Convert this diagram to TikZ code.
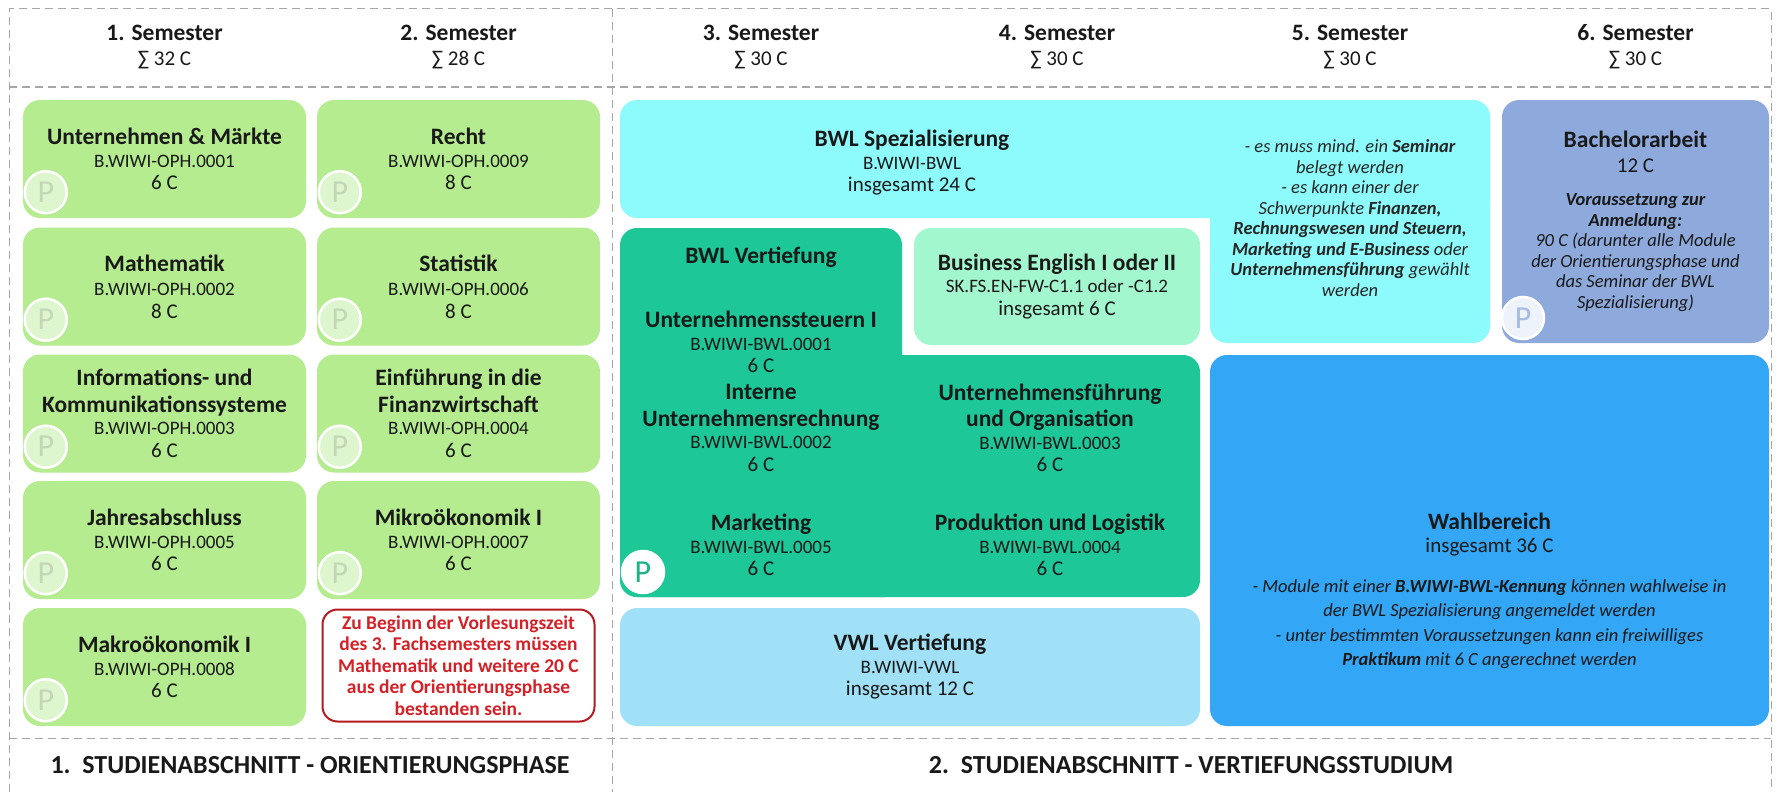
\documentclass[tikz,border=0pt]{standalone}
\usepackage{fontspec}
\setmainfont{Carlito}
\usepackage{xcolor}
\definecolor{gruen}{HTML}{B5EC8F}
\definecolor{tuerkis}{HTML}{1DC797}
\definecolor{mint}{HTML}{A3F7CF}
\definecolor{cyanbox}{HTML}{8DFBFB}
\definecolor{hellblau}{HTML}{A0E1F7}
\definecolor{lila}{HTML}{8EAADC}
\definecolor{blau}{HTML}{33A6F5}
\definecolor{rot}{HTML}{D42027}
\definecolor{rahmen}{HTML}{A6A6A6}

\newcommand\mtitle{\fontsize{23.5}{26}\selectfont\bfseries}
\newcommand\mcode{\fontsize{19}{21}\selectfont}
\newcommand\mnote{\fontsize{18.5}{20.5}\selectfont\itshape}

\tikzset{
  frame/.style={draw=rahmen, dash pattern=on 8pt off 5pt, line width=1pt},
  modbox/.style={rounded corners=17pt, inner sep=0pt, align=center, fill=#1,
    text=black!90, font=\fontsize{21}{22.5}\selectfont},
  gbox/.style={modbox=gruen, minimum width=283pt, minimum height=118pt},
  txt/.style={align=center, inner sep=0pt, text=black!90, font=\fontsize{21}{22.5}\selectfont},
  pmark/.style={circle, minimum size=42pt, inner sep=0pt, line width=2.5pt, draw=white,
    font=\fontsize{32}{32}\selectfont},
}

\begin{document}
\begin{tikzpicture}[x=1pt,y=-1pt]
\useasboundingbox (0,0) rectangle (1778,792);
\fill[white] (0,0) rectangle (1778,792);

% Rahmen
\draw[frame] (9,792) -- (9,9) -- (1771,9) -- (1771,792);
\draw[frame] (9,87) -- (1771,87);
\draw[frame] (9,738) -- (1771,738);
\draw[frame] (612,9) -- (612,792);

% Semester
\node[txt, font=\fontsize{21}{25}\selectfont] (s1) at (164.5,47) {\mtitle 1. Semester\\ ∑ 32 C};
\node[txt, font=\fontsize{21}{25}\selectfont] (s2) at (458.5,47) {\mtitle 2. Semester\\ ∑ 28 C};
\node[txt, font=\fontsize{21}{25}\selectfont] (s3) at (761,47) {\mtitle 3. Semester\\ ∑ 30 C};
\node[txt, font=\fontsize{21}{25}\selectfont] (s4) at (1057,47) {\mtitle 4. Semester\\ ∑ 30 C};
\node[txt, font=\fontsize{21}{25}\selectfont] (s5) at (1350,47) {\mtitle 5. Semester\\ ∑ 30 C};
\node[txt, font=\fontsize{21}{25}\selectfont] (s6) at (1635.5,47) {\mtitle 6. Semester\\ ∑ 30 C};

% Orientierungsphase
\node[gbox] (um) at (164.5,159) {\mtitle Unternehmen \& Märkte\\ \mcode B.WIWI-OPH.0001\\ 6 C};
\node[gbox] (mat) at (164.5,286.5) {\mtitle Mathematik\\[2pt] \mcode B.WIWI-OPH.0002\\ 8 C};
\node[gbox] (iks) at (164.5,413.5) {\mtitle Informations- und\\[4pt] \mtitle Kommunikationssysteme\\ \mcode B.WIWI-OPH.0003\\ 6 C};
\node[gbox] (ja) at (164.5,540) {\mtitle Jahresabschluss\\ \mcode B.WIWI-OPH.0005\\ 6 C};
\node[gbox] (mak) at (164.5,667) {\mtitle Makroökonomik I\\ \mcode B.WIWI-OPH.0008\\ 6 C};
\node[gbox] (re) at (458.5,159) {\mtitle Recht\\ \mcode B.WIWI-OPH.0009\\ 8 C};
\node[gbox] (sta) at (458.5,286.5) {\mtitle Statistik\\[2pt] \mcode B.WIWI-OPH.0006\\ 8 C};
\node[gbox] (fin) at (458.5,413.5) {\mtitle Einführung in die\\[4pt] \mtitle Finanzwirtschaft\\ \mcode B.WIWI-OPH.0004\\ 6 C};
\node[gbox] (mik) at (458.5,540) {\mtitle Mikroökonomik I\\ \mcode B.WIWI-OPH.0007\\ 6 C};
\foreach \b in {um,mat,iks,ja,mak,re,sta,fin,mik}
  \node[pmark, fill=gruen!45!white, text=gruen!55!gray!60!white] (\b-p) at ([shift={(23pt,26pt)}]\b.south west) {P};

\node[modbox=white, draw=rot!85!black, line width=2pt, rounded corners=15pt,
  minimum width=272pt, minimum height=112pt, text=rot,
  font=\fontsize{19.5}{21.5}\selectfont\bfseries] (hinweis) at (458.5,665.5)
  {Zu Beginn der Vorlesungszeit\\ des 3. Fachsemesters müssen\\ Mathematik und weitere 20 C\\ aus der Orientierungsphase\\ bestanden sein.};

% Vertiefungsstudium
\fill[cyanbox, rounded corners=17pt] (620,100) rectangle (1490,218);
\fill[cyanbox, rounded corners=17pt] (1210,100) rectangle (1490,343);
\node[txt] (spz) at (912,163) {\mtitle BWL Spezialisierung\\ \mcode B.WIWI-BWL\\ insgesamt 24 C};
\node[txt, font=\mnote, text=black!85] (spznote) at (1350,218)
  {- es muss mind. ein \textbf{Seminar}\\ belegt werden\\ - es kann einer der\\ Schwerpunkte \textbf{Finanzen,}\\
   \textbf{Rechnungswesen und Steuern,}\\ \textbf{Marketing und E-Business} oder\\ \textbf{Unternehmensführung} gewählt\\ werden};

\fill[tuerkis, rounded corners=17pt] (620,228) rectangle (902,597);
\fill[tuerkis, rounded corners=17pt] (620,355) rectangle (1200,597);
\node[txt] (bvt) at (761,257) {\mtitle BWL Vertiefung};
\node[txt] (ust) at (761,342) {\mtitle Unternehmenssteuern I\\ \mcode B.WIWI-BWL.0001\\ 6 C};
\node[txt] (iur) at (761,428) {\mtitle Interne\\[4pt] \mtitle Unternehmensrechnung\\ \mcode B.WIWI-BWL.0002\\ 6 C};
\node[txt] (ufo) at (1050,428) {\mtitle Unternehmensführung\\[4pt] \mtitle und Organisation\\ \mcode B.WIWI-BWL.0003\\ 6 C};
\node[txt] (mkt) at (761,545) {\mtitle Marketing\\ \mcode B.WIWI-BWL.0005\\ 6 C};
\node[txt] (pul) at (1050,545) {\mtitle Produktion und Logistik\\ \mcode B.WIWI-BWL.0004\\ 6 C};
\node[pmark, fill=white, text=tuerkis!90!black] (bvt-p) at (643,572) {P};

\node[modbox=mint, minimum width=286pt, minimum height=117pt] (be) at (1057,286.5)
  {\mtitle Business English I oder II\\ \mcode SK.FS.EN-FW-C1.1 oder -C1.2\\ insgesamt 6 C};
\node[modbox=hellblau, minimum width=580pt, minimum height=118pt] (vwl) at (910,667)
  {\mtitle VWL Vertiefung\\ \mcode B.WIWI-VWL\\ insgesamt 12 C};

\node[modbox=lila, minimum width=267pt, minimum height=243pt, font=\fontsize{21}{20.5}\selectfont] (ba) at (1635.5,221.5)
  {\mtitle Bachelorarbeit\\[4pt] 12 C\\[13pt] \mnote\bfseries Voraussetzung zur\\ \mnote\bfseries Anmeldung:\\
   \mnote 90 C (darunter alle Module\\ \mnote der Orientierungsphase und\\ \mnote das Seminar der BWL\\ \mnote Spezialisierung)};
\node[pmark, fill=white!85!lila, text=lila!80!white] (ba-p) at (1523,318) {P};

\node[modbox=blau, minimum width=559pt, minimum height=371pt] (wb) at (1489.5,540.5) {};
\node[txt, font=\fontsize{21}{24.5}\selectfont] (wbtext) at (1489.5,591)
  {\mtitle Wahlbereich\\[-1.5pt] insgesamt 36 C\\[15pt] \mnote - Module mit einer \textbf{B.WIWI-BWL-Kennung} können wahlweise in\\
   \mnote der BWL Spezialisierung angemeldet werden\\ \mnote - unter bestimmten Voraussetzungen kann ein freiwilliges\\
   \mnote \textbf{Praktikum} mit 6 C angerechnet werden};

% Studienabschnitte
\node[txt, font=\fontsize{26}{30}\selectfont\bfseries] (ab1) at (310,765) {1.\ \ STUDIENABSCHNITT - ORIENTIERUNGSPHASE};
\node[txt, font=\fontsize{26}{30}\selectfont\bfseries] (ab2) at (1191,765) {2.\ \ STUDIENABSCHNITT - VERTIEFUNGSSTUDIUM};
\end{tikzpicture}
\end{document}
